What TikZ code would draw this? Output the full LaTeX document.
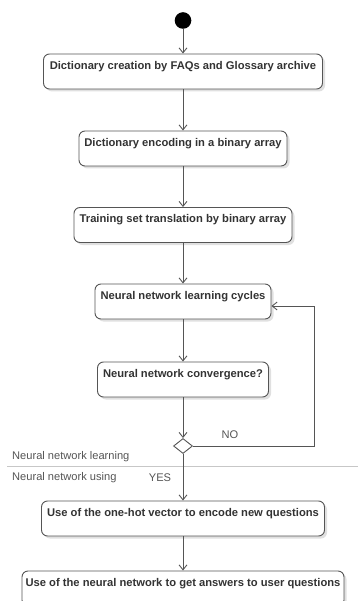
\documentclass[tikz,border=0pt]{standalone}
\usepackage{fontspec}
\setmainfont{Liberation Sans}
\usetikzlibrary{arrows.meta,shapes.geometric,shadows}
\definecolor{lc}{HTML}{555555}
\definecolor{tc}{HTML}{333333}
\begin{document}
\begin{tikzpicture}[x=1pt,y=-1pt,
  act/.style={draw=lc, line width=0.9pt, rounded corners=6pt, fill=white,
    font=\fontsize{11.2}{13}\selectfont\bfseries, text=tc,
    inner xsep=0pt, inner ysep=4pt, text height=11.5pt, text depth=15.5pt,
    drop shadow={shadow xshift=2.5pt, shadow yshift=-2.5pt, fill=black, opacity=0.12}},
  flow/.style={draw=lc, line width=0.9pt, -{Straight Barb[length=5pt,width=8pt]}},
  lbl/.style={font=\fontsize{11.1}{13}\selectfont, text=lc, inner sep=0pt}]
\clip (0,0) rectangle (358,601);
\fill[white] (0,0) rectangle (358,601);

\node[circle, fill=black, minimum size=16.6pt, inner sep=0pt] (start) at (183,20.5) {};
\node[act, minimum width=279pt] (b1) at (183,71.5) {Dictionary creation by FAQs and Glossary archive};
\node[act, minimum width=208pt] (b2) at (183,148.5) {Dictionary encoding in a binary array};
\node[act, minimum width=218pt] (b3) at (183,225) {Training set translation by binary array};
\node[act, minimum width=176pt] (b4) at (183,301.5) {Neural network learning cycles};
\node[act, minimum width=171pt] (b5) at (183,379.5) {Neural network convergence?};
\node[diamond, draw=lc, line width=0.9pt, fill=white, aspect=1.27, minimum width=19pt, minimum height=15pt, inner sep=0pt] (dec) at (183,446) {};
\node[act, minimum width=283pt] (b6) at (183,518.5) {Use of the one-hot vector to encode new questions};
\node[act, minimum width=322pt] (b7) at (183,588.5) {Use of the neural network to get answers to user questions};

\coordinate (sepL) at (7,466);
\coordinate (sepR) at (358,466);
\draw[draw=black!22, line width=0.9pt] (sepL) -- (sepR);
\node[lbl, anchor=west] (l1) at (12,457) {Neural network learning};
\node[lbl, anchor=west] (l2) at (12,478) {Neural network using};
\node[lbl] (yes) at (160,478) {YES};
\node[lbl] (no) at (230,435) {NO};

\draw[flow] (start) -- (b1);
\draw[flow] (b1) -- (b2);
\draw[flow] (b2) -- (b3);
\draw[flow] (b3) -- (b4);
\draw[flow] (b4) -- (b5);
\draw[flow] (b5) -- (dec);
\draw[flow] (dec) -- (b6);
\draw[flow] (b6) -- (b7);
\coordinate (loop) at (314,306);
\draw[flow] (dec.east) -| (loop) -- (loop -| b4.east);
\end{tikzpicture}
\end{document}
